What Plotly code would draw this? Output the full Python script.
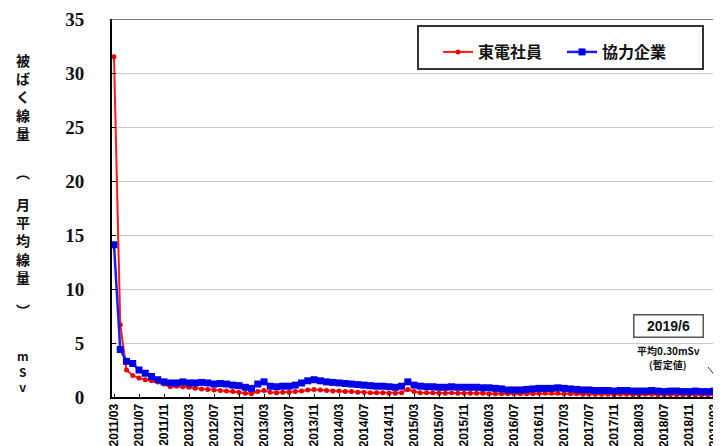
import plotly.graph_objects as go

# Monthly data, 2011/03 .. 2019/06
months = [f"{y}/{m:02d}" for y in range(2011, 2020) for m in range(1, 13)]
months = months[months.index("2011/03"):months.index("2019/06") + 1]

# 東電社員 (TEPCO employees), mSv monthly average
tepco = [
    31.5, 6.7, 2.5, 2.0, 1.75, 1.6, 1.5, 1.4, 1.2, 0.95,                 # 2011/03-12
    1.0, 0.95, 0.9, 0.8, 0.75, 0.7, 0.65, 0.6, 0.55, 0.5, 0.45, 0.35,     # 2012
    0.3, 0.5, 0.6, 0.45, 0.4, 0.45, 0.45, 0.5, 0.55, 0.65, 0.7, 0.65,     # 2013
    0.6, 0.55, 0.55, 0.5, 0.5, 0.45, 0.45, 0.4, 0.4, 0.4, 0.35, 0.35,     # 2014
    0.4, 0.7, 0.5, 0.4, 0.4, 0.4, 0.35, 0.35, 0.4, 0.35, 0.35, 0.35,      # 2015
    0.35, 0.35, 0.3, 0.3, 0.3, 0.3, 0.3, 0.3, 0.3, 0.3, 0.35, 0.35,       # 2016
    0.35, 0.35, 0.3, 0.3, 0.3, 0.25, 0.25, 0.25, 0.25, 0.25, 0.2, 0.25,   # 2017
    0.25, 0.2, 0.2, 0.25, 0.25, 0.2, 0.2, 0.2, 0.2, 0.2, 0.2, 0.2,        # 2018
    0.2, 0.2, 0.2, 0.2, 0.2, 0.2,                                         # 2019/01-06
]

# 協力企業 (contractors), mSv monthly average
contractor = [
    14.1, 4.4, 3.3, 3.1, 2.5, 2.2, 1.9, 1.6, 1.4, 1.3,                    # 2011/03-12
    1.3, 1.4, 1.3, 1.3, 1.35, 1.3, 1.2, 1.25, 1.2, 1.1, 1.05, 0.9,        # 2012
    0.8, 1.2, 1.4, 1.0, 0.95, 1.0, 1.0, 1.1, 1.3, 1.5, 1.6, 1.5,          # 2013
    1.4, 1.35, 1.3, 1.25, 1.2, 1.15, 1.1, 1.05, 1.0, 1.0, 0.95, 0.9,      # 2014
    1.0, 1.4, 1.1, 1.0, 0.95, 0.95, 0.9, 0.9, 0.95, 0.9, 0.9, 0.9,        # 2015
    0.9, 0.85, 0.85, 0.8, 0.75, 0.65, 0.65, 0.65, 0.7, 0.75, 0.8, 0.8,    # 2016
    0.8, 0.85, 0.8, 0.75, 0.7, 0.65, 0.65, 0.6, 0.6, 0.6, 0.55, 0.6,      # 2017
    0.6, 0.55, 0.55, 0.55, 0.6, 0.55, 0.5, 0.55, 0.55, 0.5, 0.5, 0.55,    # 2018
    0.5, 0.5, 0.55, 0.5, 0.5, 0.5,                                        # 2019/01-06
]

tick_labels = months[::4]
y_ticks = [0, 5, 10, 15, 20, 25, 30, 35]

JP = "Noto Sans CJK JP"

fig = go.Figure()
fig.add_trace(go.Scatter(
    x=months, y=tepco, name="東電社員", mode="lines+markers",
    line=dict(color="#ff1a1a", width=2),
    marker=dict(color="#e60000", size=5, symbol="circle"),
))
fig.add_trace(go.Scatter(
    x=months, y=contractor, name="協力企業", mode="lines+markers",
    line=dict(color="#1a1aff", width=2.5),
    marker=dict(color="#0000e6", size=7, symbol="square"),
))

# page body has an 8px margin; figure sized to fill the rest of the window
OFF = 8
W, H = 721 - OFF, 446 - OFF
PL, PT, PB = 112, 19, 397          # plot edges in window pixels
L, T, B = PL - OFF, PT - OFF, 446 - PB
pw, ph = W - L, H - T - B

def px(x):
    return (x - PL) / pw

def py(y):
    return (PB - y) / ph

fig.update_layout(
    width=W, height=H,
    margin=dict(l=L, r=0, t=T, b=B, pad=0, autoexpand=False),
    plot_bgcolor="white", paper_bgcolor="white",
    showlegend=True,
    legend=dict(
        orientation="h", x=px(438), y=py(35), xanchor="left", yanchor="top",
        font=dict(family=JP, size=16, color="#111", weight="bold"),
        bgcolor="rgba(0,0,0,0)", borderwidth=0,
        entrywidth=79, entrywidthmode="pixels",
    ),
    xaxis=dict(
        type="category", range=[-0.32, 97.1], automargin=False,
        tickmode="array", tickvals=tick_labels, ticktext=tick_labels,
        tickangle=-90, ticks="inside", ticklen=3, tickcolor="#000",
        tickfont=dict(family="Liberation Sans", size=12, color="#000", weight="bold"),
        showline=True, linecolor="#000", linewidth=2, showgrid=False, zeroline=False,
    ),
    yaxis=dict(
        range=[0, 35], tickvals=y_ticks, automargin=False,
        ticks="inside", ticklen=4, tickcolor="#000",
        tickfont=dict(family="Liberation Serif", size=19, color="#111", weight="bold"),
        ticklabelstandoff=22,
        showline=True, linecolor="#000", linewidth=2,
        showgrid=True, gridcolor="#c8c8c8", gridwidth=1, zeroline=False,
    ),
)

# top border of plot area
fig.add_shape(type="line", xref="paper", yref="y", x0=0, x1=1, y0=35, y1=35,
              line=dict(color="#777", width=2), layer="below")
# legend frame
fig.add_shape(type="rect", xref="paper", yref="paper",
              x0=px(418), x1=px(703), y0=py(69), y1=py(26),
              line=dict(color="#333", width=2), fillcolor="white", layer="below")

# vertical y-axis title
title_parts = [
    ("被<br>ば<br>く<br>線<br>量", 96, 14),
    ("︵", 172, 14),
    ("月<br>平<br>均<br>線<br>量", 240, 14),
    ("︶", 310, 14),
    ("m<br>S<br>v", 371, 12),
]
for txt, yc, fs in title_parts:
    fig.add_annotation(text=txt, xref="paper", yref="paper", x=px(23), y=py(yc),
                       xanchor="center", yanchor="middle", showarrow=False,
                       font=dict(family=JP, size=fs, color="#111", weight="bold"))

# 2019/6 callout
fig.add_annotation(text="2019/6", xref="paper", yref="paper", x=px(668), y=py(326),
                   xanchor="center", yanchor="middle", showarrow=False,
                   width=66, height=19, bordercolor="#555", borderwidth=1.5, bgcolor="white",
                   font=dict(family="Liberation Sans", size=14, color="#111", weight="bold"))
fig.add_annotation(text="平均0.30mSv", xref="paper", yref="paper",
                   x=px(668), y=py(350), xanchor="center", yanchor="middle", showarrow=False,
                   font=dict(family=JP, size=10, color="#111", weight="bold"))
fig.add_annotation(text="(暫定値)", xref="paper", yref="paper",
                   x=px(668), y=py(364), xanchor="center", yanchor="middle", showarrow=False,
                   font=dict(family=JP, size=10, color="#111", weight="bold"))
fig.add_shape(type="line", xref="paper", yref="paper",
              x0=px(708), y0=py(367), x1=px(721), y1=py(383),
              line=dict(color="#333", width=1))

fig.write_html("out.html")
